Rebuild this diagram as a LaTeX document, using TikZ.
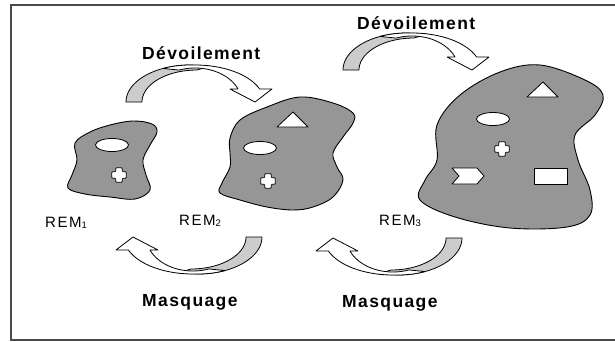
\documentclass[tikz,border=0pt]{standalone}
\usepackage{fontspec}
\setmainfont{Liberation Sans}
\newfontfamily\labfont[LetterSpace=8]{Liberation Sans}
\newfontfamily\remfont[LetterSpace=10]{Liberation Sans}
\definecolor{blobgray}{HTML}{969696}
\definecolor{arrowgray}{HTML}{CCCCCC}
\definecolor{framegray}{HTML}{4A4A4A}
\tikzset{
  blob/.style={fill=blobgray, draw=black, line width=0.9pt},
  hole/.style={fill=white, draw=black, line width=0.8pt, line join=round},
  arr/.style={draw=black, line width=0.8pt, line join=round},
  biglab/.style={inner sep=0pt, anchor=base west, font=\labfont\bfseries\fontsize{17.5}{20}\selectfont},
  remlab/.style={inner sep=0pt, anchor=base west, font=\remfont\fontsize{15}{17}\selectfont},
  pics/crossmark/.style={code={
    \filldraw[hole, rounded corners=0.8pt]
      (-3.3,-7.3) -- (3.3,-7.3) -- (3.3,-3.3) -- (7.3,-3.3) -- (7.3,3.3) -- (3.3,3.3)
      -- (3.3,7.3) -- (-3.3,7.3) -- (-3.3,3.3) -- (-7.3,3.3) -- (-7.3,-3.3) -- (-3.3,-3.3) -- cycle;
  }}
}
% curved ribbon arrow: origin (#1,#2), sign #3 (1 = as drawn, -1 = turned half round)
\newcommand\ribbonarrow[3]{%
  \filldraw[arr, fill=arrowgray]
    plot[domain=180:270, samples=30, variable=\t] ({#1+#3*(190+64*cos(\t))},{#2+#3*(102+37*sin(\t))})
    -- ({#1+#3*210},{#2+#3*66}) -- ({#1+#3*197},{#2+#3*70})
    -- plot[domain=270:180, samples=30, variable=\t] ({#1+#3*(197+55*cos(\t))},{#2+#3*(102+32*sin(\t))})
    -- cycle;
  \filldraw[arr, fill=white]
    plot[domain=245:270, samples=10, variable=\t] ({#1+#3*(190+64*cos(\t))},{#2+#3*(102+37*sin(\t))})
    -- ({#1+#3*195},{#2+#3*65})
    -- plot[domain=270:339.4, samples=30, variable=\t] ({#1+#3*(195+69*cos(\t))},{#2+#3*(102+37*sin(\t))})
    -- ({#1+#3*272},{#2+#3*89}) -- ({#1+#3*255},{#2+#3*102}) -- ({#1+#3*230},{#2+#3*89}) -- ({#1+#3*238},{#2+#3*89})
    -- plot[domain=337.5:250, samples=30, variable=\t] ({#1+#3*(195+46.5*cos(\t))},{#2+#3*(102+34*sin(\t))})
    -- cycle;
}
\begin{document}
\begin{tikzpicture}[x=1pt,y=-1pt]
\useasboundingbox (0,0) rectangle (615,341);
\fill[white] (0,0) rectangle (615,341);
\clip (0,0) rectangle (615,341);
% frame
\draw[framegray, line width=1.1pt] (11,5) rectangle (630,340);

% blob 1
\filldraw[blob] plot[smooth cycle, tension=0.6] coordinates {
  (75,143) (90,132) (110,125) (133,121) (152,124) (157,132) (150,145) (143,160)
  (146,175) (150,190) (135,199) (110,197) (85,194) (68,188) (72,175) (77,160)};
\filldraw[hole] (112,145) ellipse [x radius=16.5pt, y radius=6.5pt];
\pic at (119,175) {crossmark};

% blob 2
\filldraw[blob] plot[smooth cycle, tension=0.6] coordinates {
  (230,138) (240,120) (267,107) (300,97) (333,103) (353,113) (353,123) (343,137)
  (333,153) (337,167) (343,180) (333,197) (313,207) (293,210) (267,207) (240,200)
  (220,193) (222,183) (230,167) (230,153)};
\filldraw[hole] (293,112) -- (308,127) -- (277,127) -- cycle;
\filldraw[hole] (260,148) ellipse [x radius=16.5pt, y radius=6.5pt];
\pic at (268,181) {crossmark};

% blob 3
\filldraw[blob] plot[smooth cycle, tension=0.6] coordinates {
  (437,125) (460,95) (500,72) (540,65) (585,80) (603,95) (595,115) (575,135)
  (578,160) (590,190) (590,215) (567,227) (510,228) (455,217) (420,200)
  (425,180) (437,160)};
\filldraw[hole] (543,82) -- (558,97) -- (527,97) -- cycle;
\filldraw[hole] (493,119) ellipse [x radius=16.5pt, y radius=6.5pt];
\pic at (502,149) {crossmark};
\filldraw[hole] (452,168) -- (477,168) -- (484,176) -- (477,184) -- (452,184) -- (459,176) -- cycle;
\filldraw[hole] (534,168) rectangle (567,184);

% arrows
\ribbonarrow{0}{0}{1}
\ribbonarrow{217}{-32}{1}
\ribbonarrow{388}{339}{-1}
\ribbonarrow{588}{340}{-1}

% labels
\node[biglab] (dev1) at (142,59) {Dévoilement};
\node[biglab] (dev2) at (357,29) {Dévoilement};
\node[biglab] (masq1) at (142,306.5) {Masquage};
\node[biglab] (masq2) at (342,307) {Masquage};
\node[remlab] (rem1) at (45,227) {REM\raisebox{-1.5pt}{\fontsize{9.5}{10}\selectfont 1}};
\node[remlab] (rem2) at (179,225) {REM\raisebox{-1.5pt}{\fontsize{9.5}{10}\selectfont 2}};
\node[remlab] (rem3) at (379,225) {REM\raisebox{-1.5pt}{\fontsize{9.5}{10}\selectfont 3}};
\end{tikzpicture}
\end{document}
